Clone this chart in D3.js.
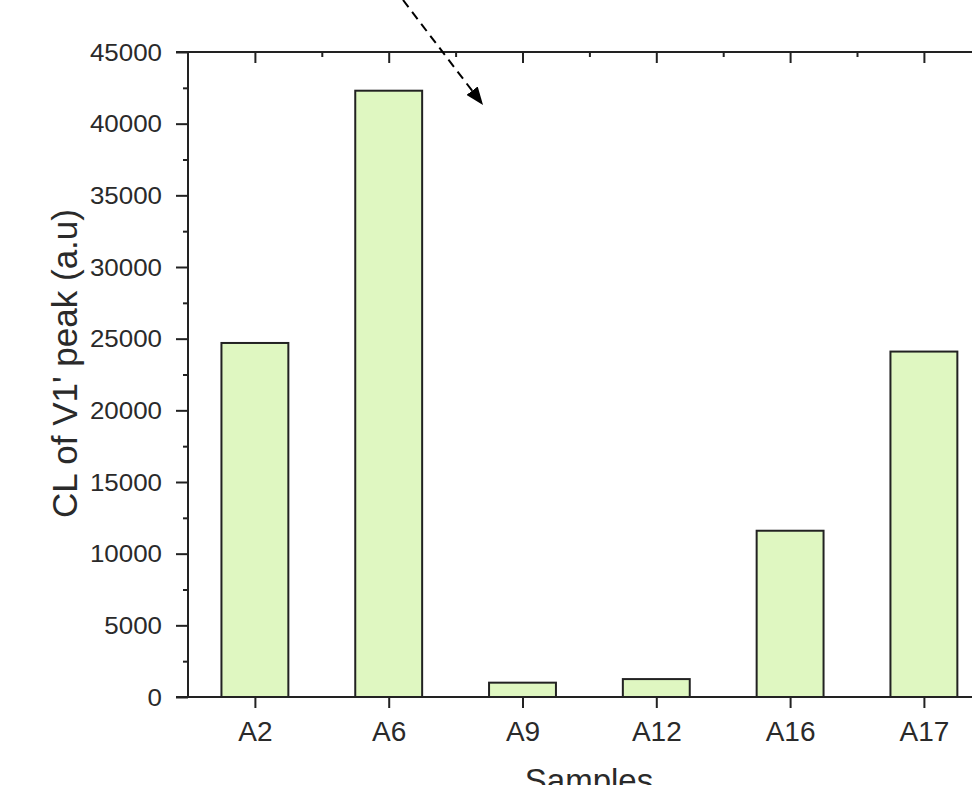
<!DOCTYPE html>
<html>
<head>
<meta charset="utf-8">
<script src="https://cdn.jsdelivr.net/npm/d3@7"></script>
<style>
  html, body { margin: 0; padding: 0; background: #fff; }
  svg { display: block; }
  text { font-family: Arial, "Liberation Sans", sans-serif; fill: #222; }
</style>
</head>
<body>
<svg id="chart" width="972" height="785"></svg>
<script>
// ---- data ----
const categories = ["A2", "A6", "A9", "A12", "A16", "A17"];
const values = [24700, 42300, 1000, 1250, 11600, 24100];
const yTickValues = [0, 5000, 10000, 15000, 20000, 25000, 30000, 35000, 40000, 45000];
const yMinorValues = [2500, 7500, 12500, 17500, 22500, 27500, 32500, 37500, 42500];
const xMinorPositions = [1.5, 2.5, 3.5, 4.5, 5.5];
const yTitle = "CL of V1' peak (a.u)";
const xTitle = "Samples";
// annotation arrow (in data coordinates: category position, value)
const arrowStart = [2.107, 48630];
const arrowEnd = [2.705, 41300];

(function () {
// ---- layout ----
const svg = d3.select("#chart");
const mLeft = 188, mTop = 52, mBottom = 697;
const step = 133.8;
const x = d3.scaleLinear().domain([0.5, 6.5]).range([mLeft, mLeft + 6 * step]);
const y = d3.scaleLinear().domain([0, 45000]).range([mBottom, mTop]);
const ink = "#222";

// bars
svg.append("g").selectAll("rect")
  .data(values)
  .join("rect")
  .attr("x", (d, i) => x(i + 1 - 0.25))
  .attr("width", x(1.25) - x(0.75))
  .attr("y", d => y(d))
  .attr("height", d => y(0) - y(d))
  .attr("fill", "#dff7c1")
  .attr("stroke", ink)
  .attr("stroke-width", 2);

// left axis major
const gL = svg.append("g").attr("transform", `translate(${mLeft},0)`)
  .call(d3.axisLeft(y).tickValues(yTickValues).tickSize(12).tickSizeOuter(0).tickPadding(14).tickFormat(d3.format("d")));
gL.select(".domain").remove();
gL.selectAll("line").attr("stroke", ink).attr("stroke-width", 2);
gL.selectAll("text")
  .attr("font-size", 24)
  .attr("x", -26 / 1.08)
  .attr("dy", "0.34em")
  .attr("transform", "scale(1.08,1)")
  .style("fill", "#2a2a2a");

// left minor
const gLm = svg.append("g").attr("transform", `translate(${mLeft},0)`)
  .call(d3.axisLeft(y).tickValues(yMinorValues).tickSize(5).tickFormat(""));
gLm.select(".domain").remove();
gLm.selectAll("line").attr("stroke", ink).attr("stroke-width", 2);

// bottom axis
const gB = svg.append("g").attr("transform", `translate(0,${mBottom})`)
  .call(d3.axisBottom(x).tickValues(d3.range(1, categories.length + 1)).tickSize(11).tickPadding(13)
    .tickFormat(d => categories[d - 1]));
gB.select(".domain").remove();
gB.selectAll("line").attr("stroke", ink).attr("stroke-width", 2);
gB.selectAll("text").attr("font-size", 28).attr("dy", "0.71em").style("fill", "#2a2a2a");

// top axis (mirror, inward ticks)
const gT = svg.append("g").attr("transform", `translate(0,${mTop})`)
  .call(d3.axisTop(x).tickValues(d3.range(1, categories.length + 1)).tickSize(-11).tickFormat(""));
gT.select(".domain").remove();
gT.selectAll("line").attr("stroke", ink).attr("stroke-width", 2);
const gTm = svg.append("g").attr("transform", `translate(0,${mTop})`)
  .call(d3.axisTop(x).tickValues(xMinorPositions).tickSize(-5).tickFormat(""));
gTm.select(".domain").remove();
gTm.selectAll("line").attr("stroke", ink).attr("stroke-width", 2);

// frame lines
svg.append("line").attr("x1", mLeft).attr("x2", mLeft).attr("y1", mTop).attr("y2", mBottom)
  .attr("stroke", ink).attr("stroke-width", 2);
svg.append("line").attr("x1", mLeft - 12).attr("x2", x(6.5)).attr("y1", mTop).attr("y2", mTop)
  .attr("stroke", ink).attr("stroke-width", 2);
svg.append("line").attr("x1", mLeft - 12).attr("x2", x(6.5)).attr("y1", mBottom).attr("y2", mBottom)
  .attr("stroke", ink).attr("stroke-width", 2);
svg.append("line").attr("x1", x(6.5)).attr("x2", x(6.5)).attr("y1", mTop).attr("y2", mBottom)
  .attr("stroke", ink).attr("stroke-width", 2);

// titles
svg.append("text")
  .attr("transform", `translate(77,${(mTop + mBottom) / 2 - 11}) rotate(-90)`)
  .attr("text-anchor", "middle")
  .attr("font-size", 35)
  .style("fill", "#2a2a2a")
  .text(yTitle);
svg.append("text")
  .attr("x", 589).attr("y", 792)
  .attr("text-anchor", "middle")
  .attr("font-size", 33)
  .style("fill", "#2a2a2a")
  .text(xTitle);

// arrow annotation
const defs = svg.append("defs");
defs.append("marker")
  .attr("id", "arrowhead")
  .attr("markerUnits", "userSpaceOnUse")
  .attr("viewBox", "0 0 18 14")
  .attr("refX", 18).attr("refY", 7)
  .attr("markerWidth", 18).attr("markerHeight", 14)
  .attr("orient", "auto")
  .append("path").attr("d", "M0,0 L18,7 L0,14 Z").attr("fill", "#000");
svg.append("line")
  .attr("x1", x(arrowStart[0])).attr("y1", y(arrowStart[1]))
  .attr("x2", x(arrowEnd[0])).attr("y2", y(arrowEnd[1]))
  .attr("stroke", "#000").attr("stroke-width", 2)
  .attr("stroke-dasharray", "9,6")
  .attr("marker-end", "url(#arrowhead)");
})();
</script>
</body>
</html>
